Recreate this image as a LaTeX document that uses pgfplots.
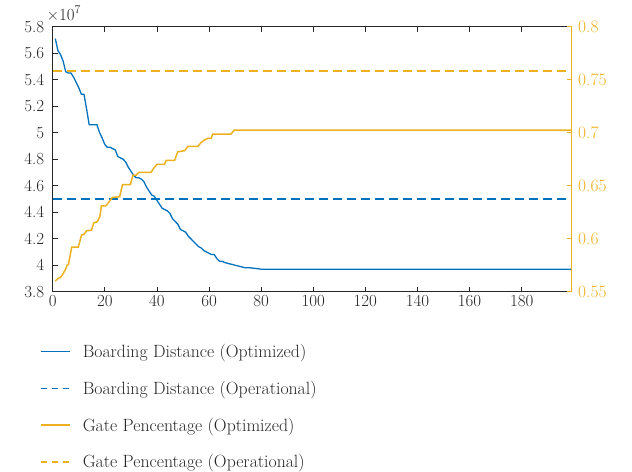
\documentclass[border=0pt]{standalone}
\usepackage{fontspec}
\usepackage{pgfplots}
\pgfplotsset{compat=1.18}
\definecolor{mblue}{rgb}{0,0.447,0.741}
\definecolor{morange}{rgb}{0.929,0.694,0.125}
\definecolor{axgray}{rgb}{0.15,0.15,0.15}
\pgfplotstableread{
x y
1 5.71e7
2 5.62e7
3 5.59e7
4 5.54e7
5 5.46e7
6 5.45e7
7 5.45e7
8 5.42e7
9 5.38e7
10 5.34e7
11 5.29e7
12 5.29e7
13 5.18e7
14 5.06e7
15 5.06e7
16 5.06e7
17 5.06e7
18 5.00e7
19 4.96e7
20 4.91e7
21 4.89e7
22 4.89e7
23 4.88e7
24 4.87e7
25 4.82e7
26 4.81e7
27 4.80e7
28 4.78e7
29 4.74e7
30 4.71e7
31 4.68e7
32 4.66e7
33 4.66e7
34 4.65e7
35 4.63e7
36 4.59e7
37 4.56e7
38 4.53e7
39 4.52e7
40 4.49e7
41 4.46e7
42 4.43e7
43 4.42e7
44 4.41e7
45 4.39e7
46 4.35e7
47 4.33e7
48 4.31e7
49 4.27e7
50 4.26e7
51 4.25e7
52 4.22e7
53 4.20e7
54 4.18e7
55 4.16e7
56 4.14e7
57 4.13e7
58 4.11e7
59 4.10e7
60 4.09e7
61 4.08e7
62 4.08e7
63 4.05e7
64 4.03e7
65 4.03e7
66 4.02e7
67 4.015e7
68 4.01e7
69 4.005e7
70 4.00e7
72 3.99e7
74 3.98e7
76 3.98e7
78 3.975e7
80 3.97e7
82 3.97e7
199 3.97e7
}\bdopt
\pgfplotstableread{
x y
1 0.560
2 0.5625
3 0.5635
4 0.567
5 0.5715
5.5 0.575
6 0.5755
6.6 0.583
7.3 0.592
9.8 0.592
11.1 0.6036
12 0.604
13 0.6075
14.9 0.608
15.8 0.615
17.1 0.616
18.1 0.621
18.7 0.631
20.4 0.631
21.7 0.635
22.9 0.639
25.7 0.6396
26.8 0.651
29.8 0.651
30.8 0.660
32.1 0.660
33 0.6626
37.8 0.6626
38.7 0.6663
40 0.670
42.9 0.670
43.6 0.674
46.8 0.674
48.0 0.682
50.6 0.683
51.9 0.687
55.7 0.687
56.9 0.6906
58.2 0.693
59.5 0.6946
60.8 0.6946
61.4 0.6987
68.4 0.6987
69.7 0.7025
199 0.7025
}\gpopt
\begin{document}
\begin{tikzpicture}
\path[use as bounding box] (0,0) rectangle (632bp,472bp);
\begin{axis}[
  at={(52.7bp,180.3bp)}, anchor=south west,
  scale only axis, width=519bp, height=265bp,
  xmin=0, xmax=199.2, ymin=3.8e7, ymax=5.8e7,
  xtick={0,20,...,180},
  ytick={3.8e7,4e7,4.2e7,4.4e7,4.6e7,4.8e7,5e7,5.2e7,5.4e7,5.6e7,5.8e7},
  scaled y ticks=base 10:-7,
  ytick scale label code/.code={\mbox{×10\textsuperscript{7}}},
  every y tick scale label/.style={at={(rel axis cs:0,1)}, anchor=south west, inner sep=0bp, yshift=6bp, xshift=-1bp, font=\fontsize{17}{20}\selectfont, text=axgray},
  /pgf/number format/assume math mode=true,
  ticklabel style={font=\fontsize{17}{20}\selectfont, text=axgray},
  yticklabel style={xshift=-5bp},
  tick align=inside, ytick pos=left, xtick pos=both,
  major tick length=5bp,
  axis line style={axgray, line width=0.7bp},
  tick style={axgray, line width=0.7bp},
  clip=false,
]
\addplot[mblue, line width=1.3bp] table[x=x,y=y] {\bdopt};
\addplot[mblue, line width=1.3bp, dash pattern=on 9bp off 5bp] coordinates {(0,4.5e7) (199.2,4.5e7)};
\end{axis}
\begin{axis}[
  at={(52.7bp,180.3bp)}, anchor=south west,
  scale only axis, width=519bp, height=265bp,
  xmin=0, xmax=199.2, ymin=0.55, ymax=0.8,
  axis x line=none, axis y line*=right,
  ytick={0.55,0.6,0.65,0.7,0.75,0.8},
  yticklabel style={/pgf/number format/precision=2, xshift=3bp},
  /pgf/number format/assume math mode=true,
  ticklabel style={font=\fontsize{17.5}{20}\selectfont, text=morange},
  tick align=inside, major tick length=5bp,
  axis line style={morange, line width=1bp, -},
  tick style={morange, line width=1bp},
  legend style={at={(axis description cs:-0.024,-0.19)}, anchor=north west, draw=none, fill=none, inner sep=0pt, font=\fontsize{17.8}{21}\selectfont, text=axgray, row sep=18bp, column sep=10bp, nodes={inner sep=2bp}},
  legend cell align=left,
  legend image code/.code={\draw[#1] (0bp,0bp) -- (29bp,0bp);},
]
\addlegendimage{mblue, line width=1.4bp}
\addlegendentry{Boarding Distance (Optimized)}
\addlegendimage{mblue, line width=1.4bp, dash pattern=on 6bp off 5bp}
\addlegendentry{Boarding Distance (Operational)}
\addplot[draw=morange, line width=1.5bp, forget plot] table[x=x,y=y] {\gpopt};
\addlegendimage{morange, line width=1.4bp}
\addlegendentry{Gate Pencentage (Optimized)}
\addplot[draw=morange, line width=1.6bp, dash pattern=on 9bp off 5bp, forget plot] coordinates {(0,0.758) (199.2,0.758)};
\addlegendimage{morange, line width=1.4bp, dash pattern=on 6bp off 5bp}
\addlegendentry{Gate Pencentage (Operational)}
\end{axis}
\end{tikzpicture}
\end{document}
